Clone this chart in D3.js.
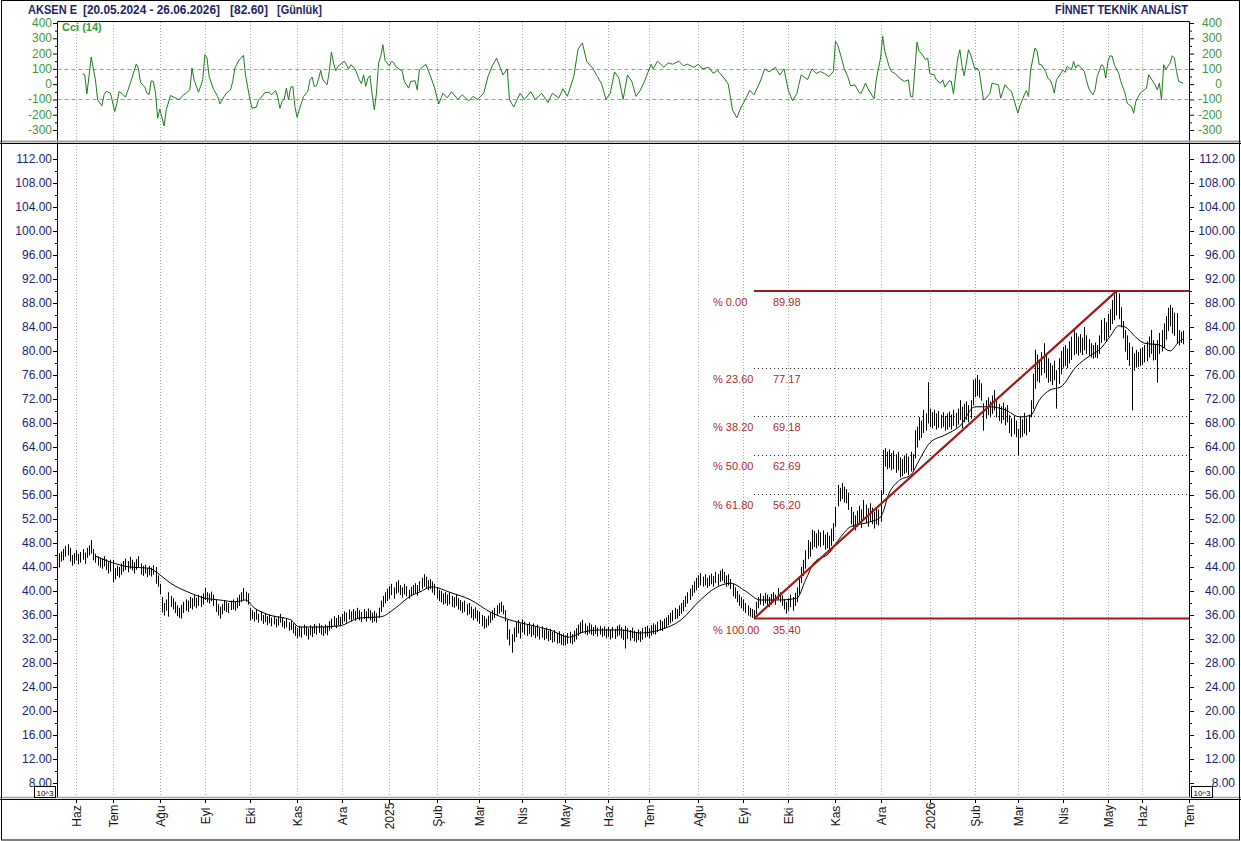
<!DOCTYPE html>
<html>
<head>
<meta charset="utf-8">
<script src="https://cdn.jsdelivr.net/npm/d3@7"></script>
<style>
  body { margin: 0; background: #fff; }
  svg { display: block; }
  text { font-family: "Liberation Sans", Arial, sans-serif; }
</style>
</head>
<body>
<svg id="chart" width="1241" height="841"></svg>
<script>
// ---- data (trading-day index 0 = 20.05.2024) ----
const hi = [
  46.3,46.6,47.0,47.5,47.8,47.2,46.0,46.3,46.8,46.2, 46.5,47.0,46.4,47.2,47.6,48.5,47.0,46.2,45.8,45.6, 45.4,45.8,45.3,44.8,45.2,
  45.2,43.8,44.2,44.0,44.6,45.0,45.4,45.0,45.7,45.2, 44.8,45.3,45.8,44.6,44.2,44.4,43.8,44.2,43.9,44.3, 44.0,42.6,41.2,
  39.0,38.0,38.6,39.8,39.2,38.8,38.2,37.6,37.2,37.7, 38.2,38.6,38.4,39.0,38.8,39.3,38.9,39.4,39.2,39.6,
  40.5,39.8,39.6,39.9,39.4,38.6,37.8,37.4,37.8,38.5, 38.2,38.0,38.4,38.6,38.3,38.9,39.4,39.8,40.5,39.9, 39.6,
  37.2,36.8,36.5,36.9,36.2,36.6,36.0,36.3,35.8,36.1, 35.6,35.9,35.4,35.8,36.2,35.5,35.0,35.4,34.8,35.1, 34.6,34.2,
  33.8,34.2,34.0,34.4,34.1,33.8,34.3,34.0,34.5,34.2, 34.6,34.3,34.0,34.4,34.2,35.0,35.4,35.8,35.5,36.0, 35.7,
  36.2,36.6,36.4,36.9,36.6,37.0,36.7,37.2,36.8,36.5, 37.0,36.6,37.1,36.8,36.4,36.7,36.3,37.2,38.4,39.2, 39.8,40.4,
  40.8,41.2,40.6,41.5,41.8,41.0,40.6,41.2,40.8,40.2, 40.7,41.0,41.3,41.0,41.6,42.2,42.8,42.4,41.8,42.0, 41.6,41.2,
  40.7,40.2,40.0,39.6,39.8,39.4,39.7,39.2,39.0,39.4, 38.8,38.5,38.2,38.4,37.8,38.0,37.4,37.0,37.3,36.8,
  36.5,36.0,35.8,35.4,35.9,36.4,36.8,37.2,37.6,38.0, 38.2,37.6,36.8,35.2,33.6,32.8,33.9,34.8,35.2,34.6,
  35.3,34.9,34.5,34.8,34.2,34.6,34.0,34.4,33.8,34.1, 33.6,33.9,33.4,33.7,33.2,33.5,33.0,33.3,32.8,32.9,
  32.6,33.0,33.2,32.8,33.4,33.8,34.4,34.8,35.2,34.6, 34.2,34.7,34.4,34.0,34.3,33.9,34.2,33.8,34.1,33.7,
  34.0,33.6,34.0,33.7,34.2,34.4,34.0,33.6,34.2,33.8, 33.5,33.9,33.4,33.2,33.6,33.3,33.8,34.0,34.2,
  33.8,34.3,34.6,34.4,34.9,35.2,35.0,35.4,35.6,36.0, 36.4,36.8,37.2,37.0,37.6,38.0,38.5,39.2,39.8,40.4, 41.0,41.6,
  42.2,42.6,43.0,42.4,42.8,42.2,42.6,42.9,42.5,43.2, 42.8,43.4,43.7,43.2,42.6,42.8,42.0,41.2,40.6,40.0, 39.4,
  39.0,38.6,38.0,37.6,37.2,37.0,36.8,38.2,39.0,39.6, 39.2,39.7,39.4,39.0,39.5,39.8,39.4,40.5,39.8,39.3, 38.6,38.2,
  38.8,39.4,39.0,39.7,40.6,42.4,44.0,45.2,46.8,48.5, 48.2,50.2,50.0,49.6,50.2,49.8,50.1,49.4,49.8,49.2, 50.4,51.3,
  54.0,57.7,57.2,58.0,57.4,57.0,56.4,54.0,53.2,52.6, 53.4,54.2,53.6,55.2,54.4,53.8,54.6,53.9,53.2,54.0,
  53.6,56.8,63.5,63.8,63.2,63.6,63.0,63.4,62.8,63.2, 62.3,62.0,62.6,62.9,62.4,63.2,62.8,66.8,67.4,69.0, 68.4,70.2,69.6,74.8,
  70.4,69.8,70.2,69.6,70.0,69.4,69.8,69.2,69.6,69.9, 69.4,70.2,69.7,70.4,71.8,70.7,71.2,71.6,71.0,71.8, 75.2,
  75.4,76.0,75.2,74.6,71.3,71.8,72.3,71.6,72.6,73.5, 71.8,71.2,70.8,71.4,70.6,71.0,69.3,68.8,69.2,68.4,
  67.0,69.2,68.6,69.7,68.9,69.4,71.8,76.2,80.2,79.4, 78.6,79.8,81.3,79.6,78.8,78.0,77.6,78.4,76.8,78.8, 80.0,
  80.7,81.0,80.4,81.6,82.4,83.5,83.0,82.4,82.8,82.2, 84.0,82.6,82.0,81.3,81.0,81.4,81.0,82.6,85.2,85.5, 84.8,
  86.2,87.0,88.5,89.4,89.98,89.6,87.3,85.0,83.5,82.6, 81.4,80.7,79.6,80.2,79.8,80.4,
  80.6,81.0,81.6,82.4,83.5,81.8,81.2,81.8,83.0,83.5, 84.6,85.8,87.2,87.7,87.2,86.4,86.3,83.5,83.2,83.4
];
const lo = [
  44.0,45.0,45.2,45.8,46.0,45.0,44.3,44.6,45.2,44.5, 44.8,45.3,44.6,45.6,46.0,46.3,45.2,44.8,44.3,44.0, 43.8,44.2,43.6,43.0,43.3,
  41.5,42.0,42.6,42.3,42.8,43.3,43.6,43.2,43.8,43.5, 43.0,43.6,44.0,42.8,42.6,43.0,42.4,42.7,42.5,42.8, 41.3,40.8,39.5,
  36.5,36.0,36.8,35.8,37.4,37.0,36.4,35.9,35.6,35.5, 36.4,36.8,36.6,37.2,37.0,37.5,37.2,37.6,37.4,37.8,
  38.6,38.2,38.0,38.4,37.6,36.6,36.0,35.5,36.2,36.8, 36.6,36.4,36.9,37.0,36.8,37.2,37.6,38.2,38.6,38.3, 37.8,
  35.2,35.4,35.0,35.3,34.8,35.1,34.6,34.9,34.4,34.7, 34.2,34.5,34.0,34.3,34.8,34.1,33.8,34.0,33.5,33.6, 33.0,32.6,
  32.2,32.5,32.3,32.8,32.6,32.0,32.7,32.4,33.0,32.8, 33.1,32.8,32.6,33.0,32.7,33.5,33.8,34.2,33.9,34.4, 34.2,
  34.6,35.0,34.8,35.3,35.0,35.4,35.1,35.5,35.2,34.9, 35.4,35.0,35.5,35.2,34.8,35.0,34.8,35.6,36.6,37.4, 38.0,38.4,
  38.8,39.4,38.8,39.6,39.8,39.4,39.0,39.5,39.2,38.8, 39.2,39.4,39.7,39.3,40.0,40.4,40.8,40.6,40.2,40.4, 39.8,39.4,
  38.8,38.4,38.2,37.8,38.0,37.6,37.9,37.4,37.3,37.6, 37.0,36.8,36.4,36.6,36.0,36.2,35.6,35.2,35.5,35.0,
  34.6,34.2,33.8,34.0,34.3,34.8,35.2,35.6,36.0,36.3, 36.6,36.2,35.0,32.0,31.0,29.8,31.6,32.4,33.0,32.2,
  33.2,32.8,32.6,32.9,32.4,32.7,32.2,32.5,32.0,32.3, 31.9,32.1,31.7,31.9,31.5,31.6,31.3,31.4,31.1,31.0,
  31.0,31.3,31.4,31.2,31.6,32.0,32.6,33.0,33.2,32.9, 32.7,33.0,32.8,32.6,32.9,32.5,32.8,32.4,32.6,32.2,
  32.4,32.0,32.3,32.1,32.5,32.7,32.2,31.9,30.5,32.1, 31.8,32.2,31.7,31.5,31.9,31.6,32.0,32.3,32.5,
  32.2,32.6,32.9,32.8,33.2,33.5,33.4,33.8,34.0,34.4, 34.7,35.0,35.4,35.5,35.9,36.3,36.7,37.4,38.0,38.6, 39.2,39.8,
  40.2,40.6,41.0,40.8,41.0,40.6,40.9,41.2,40.8,41.4, 41.0,41.6,41.8,41.4,40.8,41.0,40.4,39.2,38.8,38.2, 37.6,
  37.2,36.8,36.4,36.0,35.8,35.6,35.4,36.2,37.2,37.8, 37.6,38.0,37.7,37.4,37.8,38.2,37.8,38.6,38.2,37.6, 37.0,36.3,
  36.8,37.4,36.8,37.6,38.2,39.6,41.4,42.6,43.8,45.4, 45.8,47.0,47.4,47.2,47.6,47.4,47.7,47.0,47.2,46.8, 47.6,48.4,
  50.8,54.2,55.0,55.4,54.8,54.7,53.6,51.2,50.6,50.2, 50.8,51.2,50.6,51.8,51.4,50.8,51.6,51.2,50.5,51.2,
  51.0,51.6,56.2,60.8,60.4,60.6,60.2,60.4,59.8,60.2, 59.0,59.2,59.6,59.8,59.4,60.0,60.2,62.2,64.0,65.2, 65.6,66.4,66.8,68.0,
  67.4,67.2,67.6,67.0,67.3,67.2,67.4,66.8,67.0,67.4, 67.0,67.6,67.3,67.8,68.6,67.2,68.2,68.6,68.2,68.8, 71.0,
  72.4,72.6,72.3,71.8,66.8,68.8,69.4,69.0,69.6,70.2, 69.0,68.4,68.0,68.6,67.7,68.2,66.4,65.8,66.2,65.7,
  62.7,65.6,65.8,66.3,66.0,66.6,69.0,70.4,73.8,75.0, 74.8,76.0,76.4,75.6,74.8,75.0,74.4,75.2,70.5,74.6, 76.2,
  77.3,77.6,77.2,78.0,78.6,79.4,79.6,79.3,79.8,79.4, 80.2,79.6,79.3,79.0,78.8,79.0,78.9,79.6,81.4,81.8, 81.6,
  82.4,83.6,84.6,85.2,86.0,85.4,84.0,82.2,80.0,78.6, 77.6,70.2,76.8,77.3,77.4,77.6,
  77.8,78.2,78.4,79.0,79.6,78.5,78.6,74.8,79.6,80.0, 80.6,82.0,83.4,84.2,83.0,82.6,81.3,81.0,81.4,81.2
];

// moving average
const maIdx = [17,25,33,42,47,52,61,68,75,82,87,91,98,108,112,122,131,140,150,157,164,168,174,182,192,201,210,220,229,238,243,252,262,271,280,290,299,306,313,320,327,336,344,348,352,359,364,369,378,383,387,392,397,401,406,413,420,427,434,441,448,453,457,462,467,474,481,485,490,494,497,502,506,513,518,522,524];
const maVal = [45.8,44.7,44.0,43.8,42.7,41.3,39.7,38.8,38.5,38.2,38.5,37.2,36.0,35.2,34.0,34.0,34.2,35.5,35.7,37.2,39.2,39.8,40.7,39.8,38.5,36.5,35.2,34.3,33.5,32.3,33.0,33.5,33.5,33.0,33.5,35.2,38.5,40.5,41.3,40.0,38.5,38.5,38.8,41.8,44.7,46.3,48.8,50.7,51.5,52.3,56.3,58.5,59.3,61.8,64.7,66.0,67.5,70.7,70.7,70.2,69.0,69.3,71.8,73.5,74.0,77.3,79.3,80.2,82.4,84.2,84.0,82.3,81.3,81.0,80.0,81.5,82.0];

// CCI(14)
const cciIdx = [11,12,13,14,15,17,18,20,21,22,24,26,27,28,30,31,33,34,36,37,38,40,41,42,43,44,45,46,47,49,50,52,54,56,58,59,61,62,63,65,66,67,68,69,70,72,74,75,77,78,80,81,82,84,85,86,87,89,90,92,93,94,96,98,99,101,102,103,104,105,106,107,108,109,110,111,112,114,116,117,118,119,120,121,122,123,125,126,127,128,129,130,132,133,134,135,136,138,140,141,142,143,144,145,146,147,148,149,150,151,152,154,155,156,157,159,160,161,163,164,166,167,168,
  171,173,175,177,179,181,183,186,188,191,193,195,198,200,202,204,207,209,210,212,215,217,220,222,225,228,230,233,235,237,240,242,244,246,249,251,253,255,257,259,261,263,265,267,269,271,273,276,277,279,282,284,286,289,291,293,296,298,300,303,305,307,310,312,314,316,318,320,322,324,327,329,331,334,336,338,340,342,344,346,349,351,353,
  355,357,359,361,362,363,365,366,368,369,371,373,374,376,377,380,381,383,384,385,387,388,390,391,393,394,396,397,398,400,401,402,404,405,406,408,409,411,412,413,415,416,417,419,420,421,422,423,424,425,427,428,429,431,432,434,435,436,438,439,441,443,444,445,447,448,450,451,452,453,455,456,457,458,460,461,462,463,464,465,467,468,469,470,472,473,474,475,476,478,479,480,482,483,484,486,487,488,489,490,491,492,494,495,497,498,500,501,502,504,505,507,508,509,511,512,513,514,515,516,518,519,520,521,522,524];
const cciVal = [68,61,-63,50,177,28,-103,-142,-70,-48,-59,-179,-125,-48,-70,-85,-4,39,131,105,11,-20,-59,-68,22,18,-59,-223,-164,-273,-168,-74,-88,-103,-70,-63,-37,105,28,-53,-15,28,193,171,50,-33,-81,-129,-81,-59,-37,18,105,160,171,188,55,-98,-158,-151,-103,-92,-55,-53,-70,-42,-85,-158,-114,-98,-26,-103,-20,-15,-147,-217,-168,-81,-48,28,46,-15,-11,33,90,28,-4,83,210,138,88,116,138,149,127,98,127,101,28,2,61,-15,39,55,-70,-168,-59,138,182,258,155,120,149,142,116,94,88,18,-26,18,22,-37,94,
  130,60,-20,-130,-60,-90,-50,-100,-70,-110,-80,-100,-60,50,120,170,60,100,-100,-150,-60,-100,-50,-100,-60,-120,-60,-90,-30,-80,50,230,270,150,100,50,0,-100,-60,80,40,-100,60,20,-80,-40,20,130,100,150,110,140,130,150,120,130,110,130,100,110,70,90,40,0,-170,-220,-150,-100,-40,-70,20,100,80,110,60,100,-40,-110,-60,60,30,100,70,
  83,68,50,83,280,258,160,105,39,-11,-4,-55,-59,7,-26,-96,28,171,313,214,116,83,68,50,28,18,28,-81,-85,274,214,203,160,171,68,61,28,7,28,-20,22,18,-63,171,225,116,55,138,225,193,98,105,83,-103,-96,-59,7,2,-4,-92,-4,-37,-48,-92,-190,-142,-70,-42,-81,94,236,214,127,127,83,39,28,-4,-59,28,68,94,77,116,94,149,105,127,116,83,28,-26,-70,-37,50,127,116,39,149,186,182,127,72,18,-59,-125,-147,-190,-114,-59,-48,-26,61,39,-4,-37,7,-103,127,98,138,186,171,83,18,7];

const monthLabels = ["Haz","Tem","Ağu","Eyl","Eki","Kas","Ara","2025","Şub","Mar","Nis","May","Haz","Tem","Ağu","Eyl","Eki","Kas","Ara","2026","Şub","Mar","Nis","May","Haz","Tem"];
const monthIdx = [8,25,47,68,89,111,132,154,176,196,216,236,256,275,298,319,340,362,383,406,427,447,468,489,505,527];

const fibPct = ["% 0.00","% 23.60","% 38.20","% 50.00","% 61.80","% 100.00"];
const fibVal = [89.98,77.17,69.18,62.69,56.20,35.40];
const fibLowIdx = 324, fibHighIdx = 493;

const priceTicks = d3.range(8, 113, 4);
const cciTicks = [-300,-200,-100,0,100,200,300,400];

if (hi.length !== lo.length) console.error("hi/lo length mismatch", hi.length, lo.length);
if (cciIdx.length !== cciVal.length) console.error("cci length mismatch", cciIdx.length, cciVal.length);
if (maIdx.length !== maVal.length) console.error("ma length mismatch");

// ---- layout ----
const svg = d3.select("#chart");
const L = 57.5, R = 1189.5;
const cciTop = 22, cciBot = 141, mainTop = 143, mainBot = 797;
const navy = "#1c1c70", green = "#3a9a3a", fibRed = "#a01818";

const x = d3.scaleLinear().domain([0, hi.length - 1]).range([59, 59 + (hi.length - 1) * 2.145]);
const y = d3.scaleLinear().domain([8, 112]).range([783, 159]);
const yc = d3.scaleLinear().domain([-300, 400]).range([130, 23]);
const px = i => Math.round(x(i)) + 0.5;

svg.append("rect").attr("width", 1241).attr("height", 841).attr("fill", "#fff");

// month grid
const grid = svg.append("g").attr("stroke", "#a8a8a8").attr("stroke-dasharray", "1,2");
monthIdx.forEach(m => {
  if (px(m) > R) return;
  grid.append("line").attr("x1", px(m)).attr("x2", px(m)).attr("y1", cciTop).attr("y2", cciBot);
  grid.append("line").attr("x1", px(m)).attr("x2", px(m)).attr("y1", mainTop).attr("y2", mainBot);
});

// cci reference lines
[100, -100].forEach(v => {
  svg.append("line").attr("x1", L).attr("x2", R)
    .attr("y1", Math.round(yc(v)) + 0.5).attr("y2", Math.round(yc(v)) + 0.5)
    .attr("stroke", "#9a9a9a").attr("stroke-dasharray", "4,3");
});

// cci line
const cciData = cciIdx.map((d, i) => [d, cciVal[i]]);
svg.append("path").datum(cciData)
  .attr("fill", "none").attr("stroke", "#1f7a1f").attr("stroke-width", 1)
  .attr("d", d3.line().x(d => x(d[0])).y(d => yc(d[1])));

svg.append("text").attr("x", 62).attr("y", 31).attr("fill", green)
  .attr("font-size", 11).attr("font-weight", "bold").text("Cci (14)");

// fib dotted levels
fibVal.forEach((v, k) => {
  const yy = Math.round(y(v)) + 0.5;
  if (k === 0 || k === fibVal.length - 1) {
    svg.append("line").attr("x1", x(fibLowIdx)).attr("x2", R).attr("y1", y(v)).attr("y2", y(v))
      .attr("stroke", fibRed).attr("stroke-width", 2);
  } else {
    svg.append("line").attr("x1", x(fibLowIdx)).attr("x2", R).attr("y1", yy).attr("y2", yy)
      .attr("stroke", "#222").attr("stroke-dasharray", "1,3");
  }
  svg.append("text").attr("x", 713).attr("y", y(v) + 15).attr("fill", "#b02a2a")
    .attr("font-size", 11).text(fibPct[k]);
  svg.append("text").attr("x", 773).attr("y", y(v) + 15).attr("fill", "#b02a2a")
    .attr("font-size", 11).text(d3.format(".2f")(v));
});

// price bars
svg.append("g").attr("stroke", "#000").attr("stroke-width", 1)
  .selectAll("line").data(hi).join("line")
  .attr("x1", (d, i) => px(i)).attr("x2", (d, i) => px(i))
  .attr("y1", d => y(d)).attr("y2", (d, i) => y(lo[i]) + 0.5);

// moving average
svg.append("path").datum(maIdx.map((d, i) => [d, maVal[i]]))
  .attr("fill", "none").attr("stroke", "#000").attr("stroke-width", 1)
  .attr("d", d3.line().curve(d3.curveMonotoneX).x(d => x(d[0])).y(d => y(d[1])));

// fib trend line
svg.append("line")
  .attr("x1", x(fibLowIdx)).attr("y1", y(fibVal[5]))
  .attr("x2", x(fibHighIdx)).attr("y2", y(fibVal[0]))
  .attr("stroke", fibRed).attr("stroke-width", 2.2);

// ---- axes ----
function sideAxis(axisFn, scale, ticks, minor, xPos) {
  const g = svg.append("g").attr("transform", `translate(${xPos},0)`);
  g.call(axisFn(scale).tickValues(ticks).tickSize(4).tickFormat(""));
  g.append("g").call(axisFn(scale).tickValues(minor).tickSize(2).tickFormat(""));
  g.selectAll(".domain").remove();
  g.selectAll("line").attr("stroke", "#000");
  return g;
}
const minorPrice = d3.range(10, 113, 4);
sideAxis(d3.axisLeft, y, priceTicks, minorPrice, L - 0.5);
sideAxis(d3.axisRight, y, priceTicks, minorPrice, R + 0.5);
const minorCci = [-250,-150,-50,50,150,250,350];
sideAxis(d3.axisLeft, yc, cciTicks, minorCci, L - 0.5);
sideAxis(d3.axisRight, yc, cciTicks, minorCci, R + 0.5);

priceTicks.forEach(v => {
  svg.append("text").attr("x", 52).attr("y", y(v) + 4).attr("text-anchor", "end")
    .attr("fill", navy).attr("font-size", 12).text(d3.format(".2f")(v));
  svg.append("text").attr("x", 1235).attr("y", y(v) + 4).attr("text-anchor", "end")
    .attr("fill", navy).attr("font-size", 12).text(d3.format(".2f")(v));
});
cciTicks.forEach(v => {
  svg.append("text").attr("x", 52).attr("y", yc(v) + 4).attr("text-anchor", "end")
    .attr("fill", green).attr("font-size", 12).text(v);
  svg.append("text").attr("x", 1222).attr("y", yc(v) + 4).attr("text-anchor", "end")
    .attr("fill", green).attr("font-size", 12).text(v);
});

// x axis labels
monthIdx.forEach((m, k) => {
  const xx = Math.min(px(m), R);
  svg.append("line").attr("x1", xx).attr("x2", xx).attr("y1", 799).attr("y2", 803).attr("stroke", "#000");
  svg.append("text").attr("transform", `translate(${xx + 4},816) rotate(-90)`)
    .attr("text-anchor", "middle").attr("fill", "#111").attr("font-size", 12).text(monthLabels[k]);
});

// ---- frames ----
const frame = svg.append("g").attr("fill", "none");
frame.append("line").attr("x1", L).attr("x2", R).attr("y1", cciTop - 0.5).attr("y2", cciTop - 0.5).attr("stroke", "#000");
frame.append("line").attr("x1", L).attr("x2", L).attr("y1", cciTop - 0.5).attr("y2", mainBot).attr("stroke", "#000");
frame.append("line").attr("x1", R).attr("x2", R).attr("y1", cciTop - 0.5).attr("y2", mainBot).attr("stroke", "#000");
frame.append("line").attr("x1", 0).attr("x2", 1241).attr("y1", 141.5).attr("y2", 141.5).attr("stroke", "#a0a0a0").attr("stroke-width", 2);
frame.append("line").attr("x1", 0).attr("x2", 1241).attr("y1", 143.5).attr("y2", 143.5).attr("stroke", "#000");
frame.append("line").attr("x1", 0).attr("x2", 1241).attr("y1", 797.5).attr("y2", 797.5).attr("stroke", "#a0a0a0").attr("stroke-width", 1.5);
frame.append("line").attr("x1", 0).attr("x2", 1241).attr("y1", 799.5).attr("y2", 799.5).attr("stroke", "#000");
frame.append("rect").attr("x", 1.5).attr("y", 0.5).attr("width", 1238).attr("height", 839.5).attr("stroke", "#000");

// 10^3 boxes
[[34, 786], [1191, 786]].forEach(([bx, by]) => {
  svg.append("rect").attr("x", bx + 0.5).attr("y", by + 0.5).attr("width", 21).attr("height", 11)
    .attr("fill", "#fff").attr("stroke", "#000");
  svg.append("text").attr("x", bx + 11).attr("y", by + 9.5).attr("text-anchor", "middle")
    .attr("font-size", 8).attr("fill", "#000").text("10^3");
});

// ---- header ----
const head = [["AKSEN E", 28, 49], ["[20.05.2024 - 26.06.2026]", 83, 137], ["[82.60]", 230, 38], ["[Günlük]", 277, 45]];
head.forEach(([t, hx, w]) => {
  svg.append("text").attr("x", hx).attr("y", 14).attr("fill", "#1e2466")
    .attr("font-size", 12).attr("font-weight", "bold")
    .attr("textLength", w).attr("lengthAdjust", "spacingAndGlyphs").text(t);
});
svg.append("text").attr("x", 1055).attr("y", 14).attr("fill", "#1e2466")
  .attr("font-size", 12).attr("font-weight", "bold")
  .attr("textLength", 133).attr("lengthAdjust", "spacingAndGlyphs").text("FİNNET TEKNİK ANALİST");
</script>
</body>
</html>
